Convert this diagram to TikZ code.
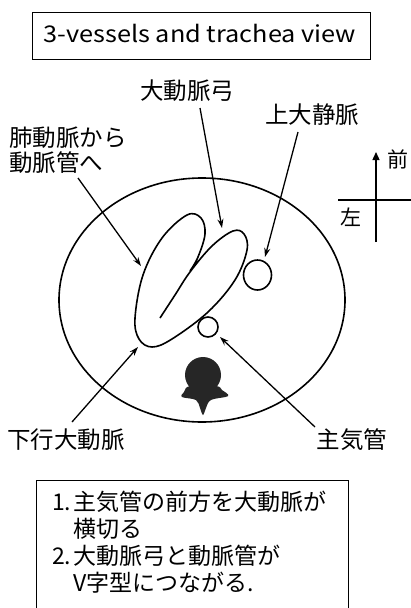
\documentclass[tikz,border=0pt]{standalone}
\usepackage{fontspec}
\setmainfont{Noto Sans CJK JP}
\usetikzlibrary{arrows.meta}
\begin{document}
\begin{tikzpicture}[x=1pt,y=-1pt,
  lbl/.style={inner sep=0pt, font=\fontsize{23.5}{25}\selectfont},
  pointer/.style={line width=1.3pt, -{Stealth[length=9pt,width=6pt]}},
  vessel/.style={line width=1.6pt},
  frame/.style={line width=1pt},
  spine/.style={fill=black!85}]
\fill[white] (0,0) rectangle (411,608);
\useasboundingbox (0,0) rectangle (411,608);

% title box
\draw[frame] (32,12) rectangle (370,59);
\node[anchor=base, inner sep=0pt, xscale=1.1,
      font=\fontsize{23}{26}\selectfont] (title) at (200,42) {3-vessels and trachea view};

% body outline
\draw[vessel] (202,300) ellipse [x radius=143pt, y radius=122pt];

% aortic arch and ductus (V shape)
\draw[vessel] plot[smooth, tension=0.6] coordinates {
  (160,318) (175,295) (190,272) (212,246) (233,231) (244,234) (247,250)
  (235,280) (208,312) (172,339) (152,347) (139,339) (135,318) (143,275)
  (162,238) (187,215) (201,218) (205,234) (198,257) (190,271)};

% superior vena cava and trachea
\draw[vessel] (257.5,275) ellipse [x radius=14pt, y radius=15pt];
\draw[vessel] (208,327) circle [radius=10pt];

% spine
\fill[spine] (203,375) circle [radius=18pt];
\fill[spine] plot[smooth cycle, tension=0.6] coordinates {
  (190,386) (184,392) (182,397) (196,400) (200,408) (203,415) (206,408)
  (211,400) (228,396) (222,390) (216,386)};

% labels
\node[lbl] (archlbl) at (187,91) {大動脈弓};
\node[lbl] (svclbl) at (312,115) {上大静脈};
\node[lbl, align=left, anchor=west] (palbl) at (9,150) {肺動脈から\\動脈管へ};
\node[lbl, anchor=west] (dalbl) at (7,440) {下行大動脈};
\node[lbl] (trlbl) at (352,440) {主気管};

% pointer ends
\coordinate (archfrom) at (200,108);
\coordinate (archtip) at (222,228);
\coordinate (svcfrom) at (298,132);
\coordinate (svctip) at (265,257);
\coordinate (pafrom) at (78,178);
\coordinate (patip) at (141,266);
\coordinate (dafrom) at (72,422);
\coordinate (datip) at (138,347);
\coordinate (trfrom) at (315,427);
\coordinate (trtip) at (220,337);

\draw[pointer] (archfrom) -- (archtip);
\draw[pointer] (svcfrom) -- (svctip);
\draw[pointer] (pafrom) -- (patip);
\draw[pointer] (dafrom) -- (datip);
\draw[pointer] (trfrom) -- (trtip);

% orientation marks
\coordinate (axbot) at (376,242);
\coordinate (axtop) at (376,152);
\coordinate (axl) at (338,200);
\coordinate (axr) at (411,200);
\draw[line width=1.3pt, -{Triangle[length=8pt,width=7pt]}] (axbot) -- (axtop);
\draw[line width=1.3pt] (axl) -- (axr);
\node[inner sep=0pt, font=\fontsize{21}{22}\selectfont] (ant) at (398,159) {前};
\node[inner sep=0pt, font=\fontsize{21}{22}\selectfont] (lft) at (351,217) {左};

% notes box
\draw[frame] (36,609) -- (36,480) -- (348,480) -- (348,609);
\node[anchor=north west, inner sep=0pt, align=left,
      font=\fontsize{23}{27}\selectfont] (notes) at (52,491)
  {\makebox[21pt][l]{1.}主気管の前方を大動脈が\\
   \makebox[21pt][l]{}横切る\\
   \makebox[21pt][l]{2.}大動脈弓と動脈管が\\
   \makebox[21pt][l]{}V字型につながる.};
\end{tikzpicture}
\end{document}
